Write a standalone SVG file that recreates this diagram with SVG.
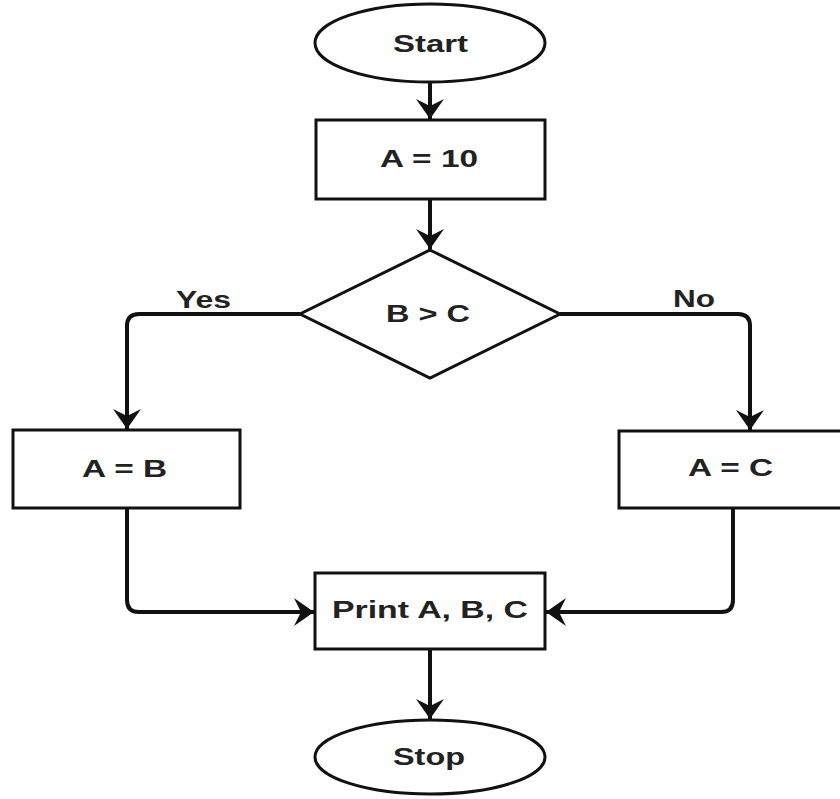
<svg xmlns="http://www.w3.org/2000/svg" width="840" height="799" viewBox="0 0 840 799">
<style>
.shape{fill:#fff;stroke:#111;stroke-width:3}
.conn{fill:none;stroke:#111;stroke-width:4}
.t{font-family:"Liberation Sans",Arial,sans-serif;font-weight:bold;font-size:23px;fill:#222}
</style>
<defs>
<marker id="arr" markerUnits="userSpaceOnUse" viewBox="-21 -15 23 30" markerWidth="23" markerHeight="30" refX="0" refY="0" orient="auto">
<path d="M-20,-14 L0,0 L-20,14 L-13,0 Z" fill="#111"/>
</marker>
</defs>
<rect width="840" height="799" fill="#fff"/>
<g id="connectors">
<path class="conn" d="M430,82 V119" marker-end="url(#arr)"/>
<path class="conn" d="M430,199 V249" marker-end="url(#arr)"/>
<path class="conn" d="M300,314 H139 Q127,314 127,326 V429" marker-end="url(#arr)"/>
<path class="conn" d="M560,314 H738 Q750,314 750,326 V430" marker-end="url(#arr)"/>
<path class="conn" d="M127,508 V600 Q127,612 139,612 H314" marker-end="url(#arr)"/>
<path class="conn" d="M733,508 V600 Q733,612 721,612 H546" marker-end="url(#arr)"/>
<path class="conn" d="M430,649 V719" marker-end="url(#arr)"/>
<text class="t" x="176" y="308" textLength="55" lengthAdjust="spacingAndGlyphs">Yes</text>
<text class="t" x="673" y="307" textLength="42" lengthAdjust="spacingAndGlyphs">No</text>
</g>
<g id="start">
<ellipse class="shape" cx="430" cy="43" rx="115" ry="39"/>
<text class="t" x="393" y="52" textLength="75" lengthAdjust="spacingAndGlyphs">Start</text>
</g>
<g id="assignA10">
<rect class="shape" x="316" y="120" width="229" height="79"/>
<text class="t" x="380" y="167" textLength="98" lengthAdjust="spacingAndGlyphs">A = 10</text>
</g>
<g id="decision">
<polygon class="shape" points="430,250 560,314 430,378 300,314"/>
<text class="t" x="386" y="322" textLength="84" lengthAdjust="spacingAndGlyphs">B &gt; C</text>
</g>
<g id="assignAB">
<rect class="shape" x="13" y="430" width="227" height="78"/>
<text class="t" x="82" y="477" textLength="85" lengthAdjust="spacingAndGlyphs">A = B</text>
</g>
<g id="assignAC">
<rect class="shape" x="619" y="431" width="230" height="77"/>
<text class="t" x="688" y="476" textLength="85" lengthAdjust="spacingAndGlyphs">A = C</text>
</g>
<g id="print">
<rect class="shape" x="315" y="573" width="230" height="76"/>
<text class="t" x="332" y="618" textLength="196" lengthAdjust="spacingAndGlyphs">Print A, B, C</text>
</g>
<g id="stop">
<ellipse class="shape" cx="430" cy="757" rx="115" ry="37"/>
<text class="t" x="393" y="765" textLength="72" lengthAdjust="spacingAndGlyphs">Stop</text>
</g>
</svg>
